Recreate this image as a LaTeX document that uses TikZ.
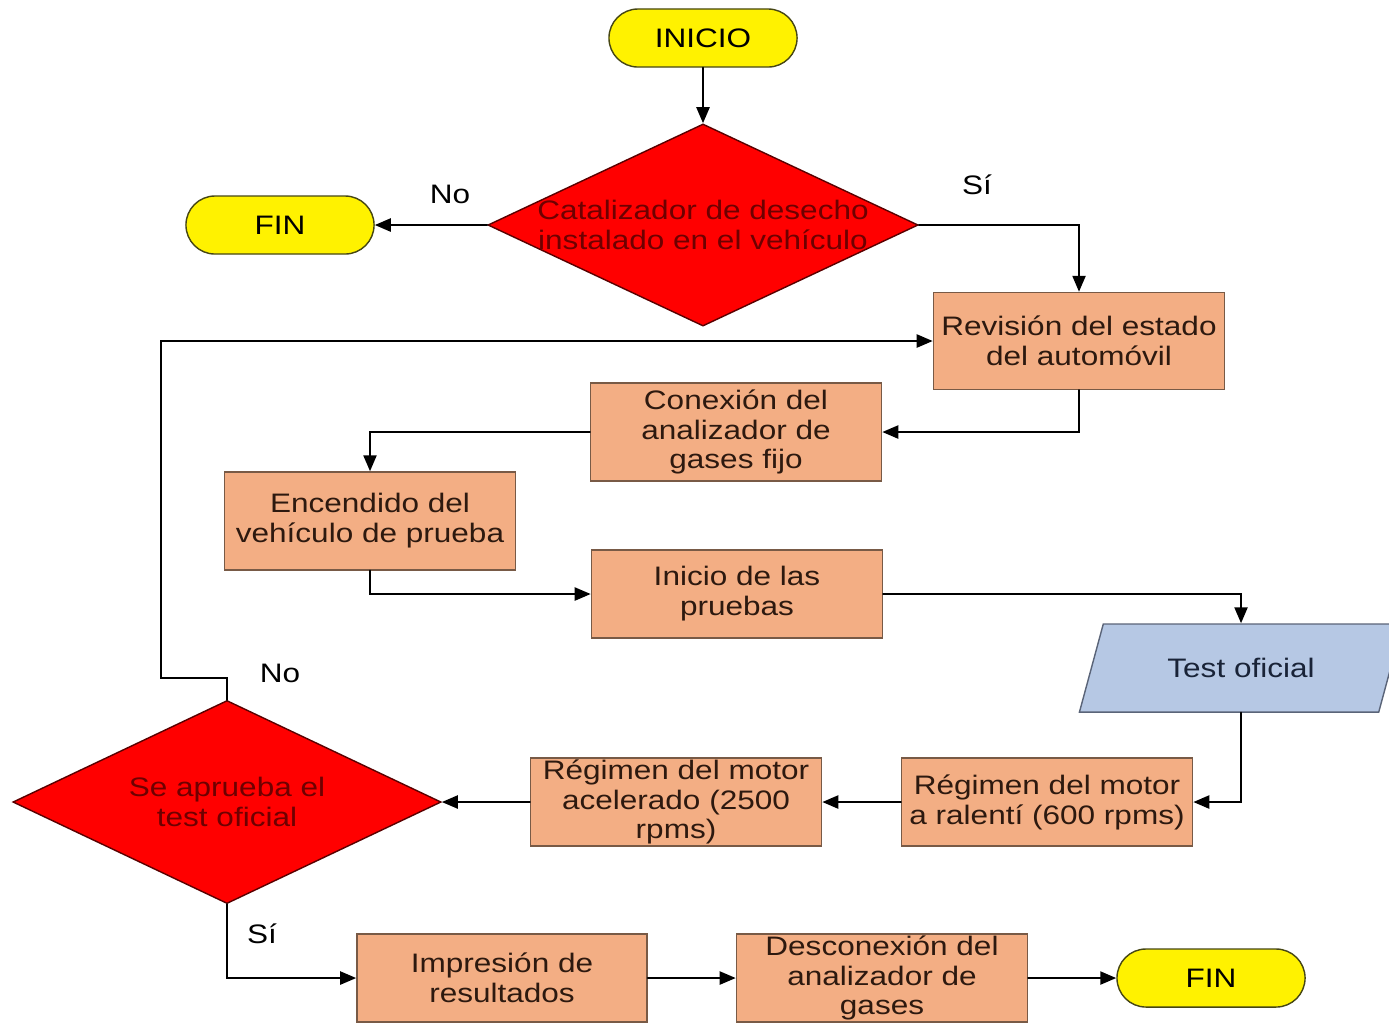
\documentclass[tikz,border=0pt]{standalone}
\usepackage{fontspec}
\setmainfont{Liberation Sans}[FakeStretch=1.18]
\usepackage{tikz}
\usetikzlibrary{shapes.geometric, arrows.meta}

\begin{document}
\begin{tikzpicture}
		[x=0.01cm,y=-0.01cm,line cap=round,
		%Styles
		every node/.style={font=\fontsize{7.6}{8.5}\selectfont},
		connector/.style={line width=0.65pt,-{Triangle[length=1.6mm,width=1.3mm]}},
		process/.style={rectangle,draw=boxline,fill=boxfill,text=boxtext,align=center,minimum width=2.91cm,inner sep=0pt},
		terminal/.style={rectangle,rounded corners=0.29cm,draw=termline,fill=yellow,minimum width=1.88cm,minimum height=0.58cm,inner sep=0pt},
		decision/.style={diamond,draw=decline,fill=red,inner sep=0pt},
		decision text/.style={text=dectext,align=center},
		data/.style={trapezium,trapezium left angle=57,trapezium right angle=123,trapezium stretches=true,draw=dataline,fill=datafill,text=datatext,minimum width=3.24cm,minimum height=0.88cm,inner sep=0pt}
		]
		
		%Colors
		\definecolor{boxfill}{RGB}{243,174,132}	%process boxes
		\definecolor{boxline}{RGB}{120,90,70}
		\definecolor{boxtext}{RGB}{45,25,15}
		\definecolor{termline}{RGB}{70,70,20}
		\definecolor{decline}{RGB}{90,0,0}
		\definecolor{dectext}{RGB}{110,0,0}
		\definecolor{datafill}{RGB}{182,200,228}	%input/output
		\definecolor{dataline}{RGB}{90,100,120}
		\definecolor{datatext}{RGB}{25,35,55}
		
		\useasboundingbox (0,0) rectangle (1389,1023);
		
		%The graphic
		
		\node[terminal] (Start) at (703, 38) {INICIO};
		
		\node[decision,minimum width=4.3cm,minimum height=2.02cm] (Cat) at (703, 225) {};
		\node[decision text] (CatText) at (Cat) {Catalizador de desecho\\instalado en el vehículo};
		
		\node[terminal] (End1) at (280, 225) {FIN};
		
		\node[process,minimum height=0.97cm] (Rev) at (1079, 341) {Revisión del estado\\del automóvil};
		\node[process,minimum height=0.98cm] (Con) at (736, 432) {Conexión del\\analizador de\\gases fijo};
		\node[process,minimum height=0.98cm] (Enc) at (370, 521) {Encendido del\\vehículo de prueba};
		\node[process,minimum height=0.88cm] (Ini) at (737, 594) {Inicio de las\\pruebas};
		
		\node[data] (Test) at (1241, 668) {Test oficial};
		
		\node[process,minimum height=0.88cm] (Ral) at (1047, 802) {Régimen del motor\\a ralentí (600 rpms)};
		\node[process,minimum height=0.88cm] (Acc) at (676, 802) {Régimen del motor\\acelerado (2500\\rpms)};
		
		\node[decision,minimum width=4.28cm,minimum height=2.03cm] (Ok) at (227, 802) {};
		\node[decision text] (OkText) at (Ok) {Se aprueba el\\test oficial};
		
		\node[process,minimum width=2.9cm,minimum height=0.88cm] (Imp) at (502, 978) {Impresión de\\resultados};
		\node[process,minimum height=0.88cm] (Des) at (882, 978) {Desconexión del\\analizador de\\gases};
		\node[terminal] (End2) at (1211, 978) {FIN};
		
		\coordinate (Back) at (161, 678);
		
		\path[connector]
			(Start)	edge	(Cat)
			(Cat)	edge	(End1)
			(Ral)	edge	(Acc)
			(Acc)	edge	(Ok)
			(Imp)	edge	(Des)
			(Des)	edge	(End2);
		
		\draw[connector] (Cat.east) -| (Rev.north);
		\draw[connector] (Rev.south) |- (Con.east);
		\draw[connector] (Con.west) -| (Enc.north);
		\draw[connector] (Enc.south) |- (Ini.west);
		\draw[connector] (Ini.east) -| (Test.north);
		\draw[connector] (Test.south) |- (Ral.east);
		\draw[connector] (Ok.north) |- (Back) |- (Rev.west);
		\draw[connector] (Ok.south) |- (Imp.west);
		
		%Labels
		\node (No1) at (450, 194) {No};
		\node (Si1) at (977, 185) {Sí};
		\node (No2) at (280, 673) {No};
		\node (Si2) at (262, 934) {Sí};
	\end{tikzpicture}
\end{document}
